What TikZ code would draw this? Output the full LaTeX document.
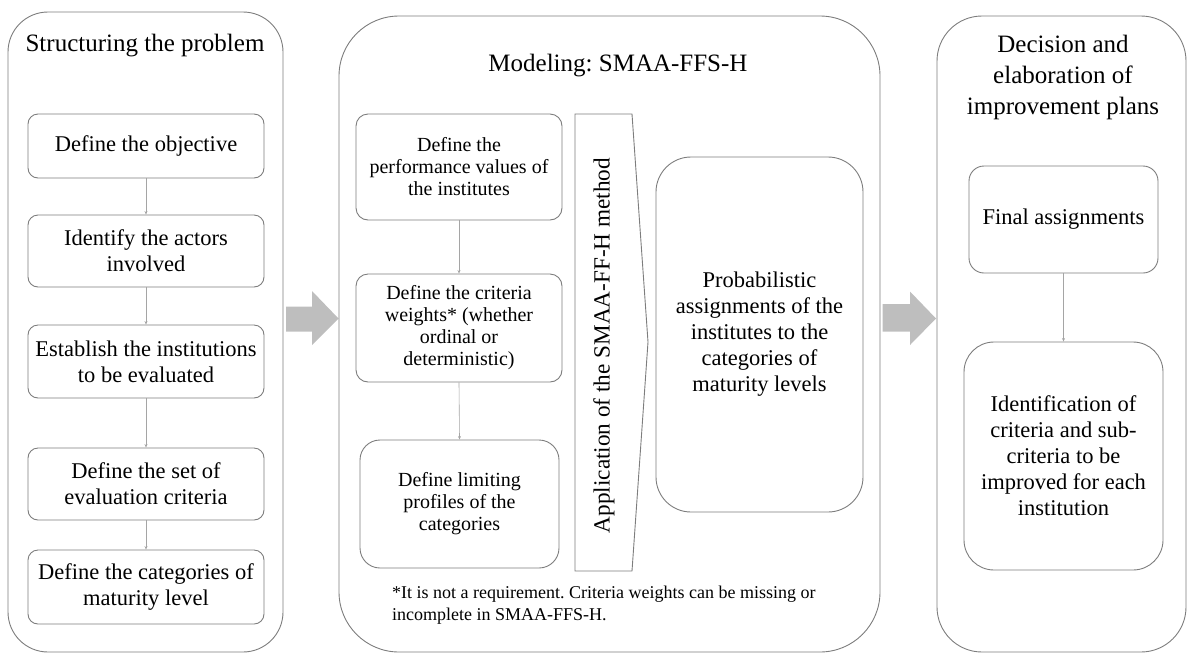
\documentclass[tikz,border=0pt]{standalone}
\usepackage{fontspec}
\setmainfont{Liberation Serif}
\frenchspacing
\usetikzlibrary{arrows.meta, calc, positioning}
\definecolor{lineg}{RGB}{125,125,125}
\definecolor{linkg}{RGB}{165,165,165}
\definecolor{arrowg}{RGB}{190,190,190}

\tikzset{
  panel/.style={draw=lineg, line width=0.9pt, inner sep=0pt},
  stepbox/.style={draw=lineg, line width=0.9pt, rounded corners=10pt,
    align=center, inner sep=0pt, font=\fontsize{22.5}{26}\selectfont},
  smallbox/.style={stepbox, rounded corners=12pt,
    font=\fontsize{20}{22}\selectfont},
  paneltitle/.style={align=center, font=\fontsize{25}{31}\selectfont},
  link/.style={draw=linkg, line width=0.6pt,
    -{Stealth[length=3.5pt,width=3pt]}},
  bigarrow/.style={fill=arrowg}
}

\begin{document}
\begin{tikzpicture}[x=1pt, y=-1pt]
\useasboundingbox (0,0) rectangle (1194,665);
% LEFT: structuring the problem
\node[panel, rounded corners=40pt, minimum width=275pt, minimum height=640pt]
  (p1) at (145.5,332) {};
\node[paneltitle] (t1) at (145,46) {Structuring the problem};
\node[stepbox, minimum width=236pt, minimum height=64pt]
  (s1) at (146,146) {Define the objective};
\node[stepbox, minimum width=236pt, minimum height=72pt]
  (s2) at (146,251) {Identify the actors\\involved};
\node[stepbox, minimum width=236pt, minimum height=73pt]
  (s3) at (146,361.5) {Establish the institutions\\to be evaluated};
\node[stepbox, minimum width=236pt, minimum height=72pt]
  (s4) at (146,484) {Define the set of\\evaluation criteria};
\node[stepbox, minimum width=236pt, minimum height=74pt]
  (s5) at (146,587) {Define the categories of\\maturity level};
\foreach \a/\b in {s1/s2,s2/s3,s3/s4,s4/s5}{
  \draw[link] (\a.south) -- (\b.north);
}
\fill[bigarrow] (286,306.5) -- (312,306.5) -- (312,291) -- (338.5,318.5)
  -- (312,345) -- (312,331.5) -- (286,331.5) -- cycle;
% MIDDLE: modeling
\node[panel, rounded corners=60pt, minimum width=541pt, minimum height=636pt]
  (p2) at (609.5,334) {};
\node[paneltitle] (t2) at (618,66) {Modeling: SMAA-FFS-H};
\node[smallbox, minimum width=206pt, minimum height=106pt]
  (m1) at (459,167) {Define the\\performance values of\\the institutes};
\node[smallbox, minimum width=206pt, minimum height=108pt]
  (m2) at (459,328) {Define the criteria\\weights* (whether\\ordinal or\\deterministic)};
\node[smallbox, rounded corners=20pt, minimum width=199pt, minimum height=128pt]
  (m3) at (459.5,504) {Define limiting\\profiles of the\\categories};
\foreach \a/\b in {m1/m2,m2/m3}{
  \draw[link] (\a.south) -- (\b.north);
}
\draw[lineg, line width=0.9pt] (575,114) -- (632,114) -- (648,342)
  -- (632,571) -- (575,571) -- cycle;
\node[rotate=90, font=\fontsize{23.2}{26}\selectfont]
  (app) at (604,345.5) {Application of the SMAA-FF-H method};
\node[stepbox, rounded corners=35pt, minimum width=207pt, minimum height=355pt]
  (m4) at (759.5,334.5) {Probabilistic\\assignments of the\\institutes to the\\categories of\\maturity levels};
\node[anchor=north west, align=left, inner sep=0pt,
  font=\fontsize{18}{21.5}\selectfont]
  (note) at (392,586) {*It is not a requirement. Criteria weights can be missing or\\incomplete in SMAA-FFS-H.};
\fill[bigarrow] (882.5,304) -- (910,304) -- (910,291.5) -- (936,318.5)
  -- (910,345) -- (910,331.5) -- (882.5,331.5) -- cycle;
% RIGHT: decision
\node[panel, rounded corners=45pt, minimum width=249pt, minimum height=636pt]
  (p3) at (1061.5,334) {};
\node[paneltitle] (t3) at (1063,77) {Decision and\\elaboration of\\improvement plans};
\node[stepbox, rounded corners=15pt, minimum width=189pt, minimum height=107pt]
  (d1) at (1063.5,219.5) {Final assignments};
\node[stepbox, rounded corners=30pt, minimum width=199pt, minimum height=228pt]
  (d2) at (1063.5,456) {Identification of\\criteria and sub-\\criteria to be\\improved for each\\institution};
\draw[link] (d1.south) -- (d2.north);
\end{tikzpicture}
\end{document}
